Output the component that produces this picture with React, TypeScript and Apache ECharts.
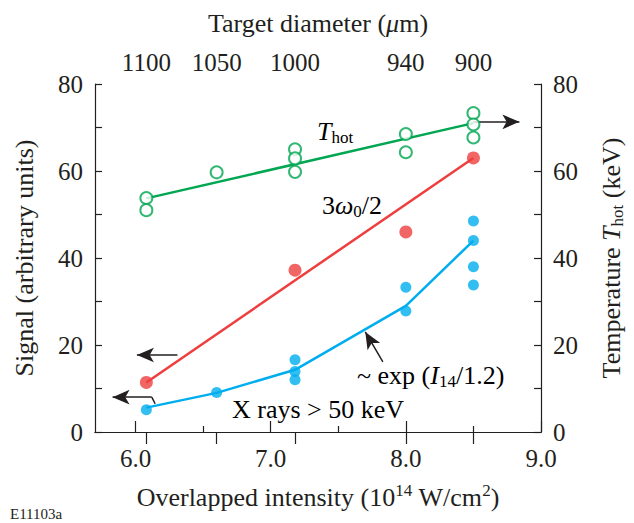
import React, { useEffect, useRef } from 'react';
import * as echarts from 'echarts';

// ---- data ----
const xTickValues = [6, 7, 8, 9];
const xMinorTickValues = [6.5, 7.5, 8.5];
const diameterPositions = [6.08, 6.6, 7.18, 8.0, 8.5];
const diameterLabels = ['1100', '1050', '1000', '940', '900'];
const yTickValues = [0, 10, 20, 30, 40, 50, 60, 70, 80];

const thotPoints = [
  [6.08, 53.8], [6.08, 51.0], [6.6, 59.7],
  [7.18, 65.0], [7.18, 62.9], [7.18, 59.8],
  [8.0, 68.5], [8.0, 64.3],
  [8.5, 73.3], [8.5, 70.7], [8.5, 67.7],
];
const thotFit = [[6.08, 53.7], [8.5, 71.0]];

const harmonicPoints = [[6.08, 11.4], [7.18, 37.2], [8.0, 46.0], [8.5, 63.0]];
const harmonicFit = [[6.08, 11.4], [8.5, 63.0]];

const xrayPoints = [
  [6.08, 5.1], [6.6, 9.1],
  [7.18, 16.6], [7.18, 13.9], [7.18, 12.0],
  [8.0, 33.3], [8.0, 27.8],
  [8.5, 48.5], [8.5, 44.0], [8.5, 38.0], [8.5, 33.8],
];
const xrayFit = [[6.08, 5.6], [6.6, 9.0], [7.18, 14.3], [8.0, 29.0], [8.5, 44.0]];

// annotation arrows (data coordinates)
const thotArrow = [[8.5, 71.3], [8.84, 71.3]];
const harmonicArrow = [[6.31, 17.7], [6.01, 17.7]];
const xrayArrow = [[6.12, 8.0], [5.83, 8.0]];
const xrayArrowKink = [[6.145, 6.5], [6.12, 8.0]];
const expArrow = [[7.83, 16.1], [7.70, 23.0]];

const FONT = 'Liberation Serif';
const INK = '#231f20';
const GREEN = '#00A651';
const RED = '#EE3E3E';
const BLUE = '#00AEEF';

const richBase = {
  a: { fontFamily: FONT, fontSize: 26, color: INK, lineHeight: 30 },
  i: { fontFamily: FONT, fontSize: 26, color: INK, fontStyle: 'italic', lineHeight: 30 },
  sup: { fontFamily: FONT, fontSize: 17, color: INK, verticalAlign: 'top', lineHeight: 16 },
  sub: { fontFamily: FONT, fontSize: 17, color: INK, verticalAlign: 'bottom', lineHeight: 14 },
};

function arrowLine(coords: number[][]) {
  return [{ coord: coords[0] }, { coord: coords[1] }];
}

export default function App() {
  const ref = useRef<HTMLDivElement>(null);
  useEffect(() => {
    if (!ref.current) return;
    const chart = echarts.init(ref.current, null, { renderer: 'svg' });
    const axisLineStyle = { color: INK, width: 1.2 };
    const tickLabelStyle = { fontFamily: FONT, fontSize: 25, color: INK };
    const baseX = { type: 'value', min: 5.7, max: 9.0, splitLine: { show: false } };
    const baseY = {
      type: 'value', min: 0, max: 80, interval: 10,
      splitLine: { show: false },
      axisLine: { show: true, lineStyle: axisLineStyle },
      axisTick: { show: true, inside: true, length: 7, lineStyle: axisLineStyle },
      nameLocation: 'middle',
    };
    const option: any = {
      animation: false,
      backgroundColor: '#ffffff',
      grid: { left: 95, right: 92, top: 84, bottom: 91 },
      xAxis: [
        {
          ...baseX,
          position: 'bottom',
          axisLine: { show: true, lineStyle: axisLineStyle },
          axisTick: { show: true, inside: true, length: 11, customValues: xTickValues, lineStyle: axisLineStyle },
          axisLabel: {
            ...tickLabelStyle, margin: 14, customValues: xTickValues,
            formatter: (v: number) => v.toFixed(1),
          },
          name: '{a|Overlapped intensity (10}{sup|14}{a| W/cm}{sup|2}{a|)}',
          nameLocation: 'middle',
          nameGap: 50,
          nameTextStyle: { rich: richBase },
        },
        {
          ...baseX,
          position: 'top',
          axisLine: { show: true, lineStyle: axisLineStyle },
          axisTick: { show: true, inside: true, length: 12, customValues: diameterPositions, lineStyle: axisLineStyle },
          axisLabel: {
            ...tickLabelStyle, margin: 9, customValues: diameterPositions,
            formatter: (v: number) => {
              const idx = diameterPositions.findIndex((p) => Math.abs(p - v) < 1e-6);
              return idx >= 0 ? diameterLabels[idx] : '';
            },
          },
          name: '{a|Target diameter (}{i|μ}{a|m)}',
          nameLocation: 'middle',
          nameGap: 46,
          nameTextStyle: { rich: richBase },
        },
        {
          ...baseX,
          position: 'bottom',
          axisLine: { show: false },
          axisTick: { show: true, inside: true, length: 6, customValues: xMinorTickValues, lineStyle: axisLineStyle },
          axisLabel: { show: false },
        },
      ],
      yAxis: [
        {
          ...baseY,
          position: 'left',
          axisLabel: {
            ...tickLabelStyle, margin: 12, customValues: yTickValues,
            formatter: (v: number) => (v % 20 === 0 ? String(v) : ''),
          },
          name: '{a|Signal (arbitrary units)}',
          nameGap: 56,
          nameTextStyle: { rich: richBase },
        },
        {
          ...baseY,
          position: 'right',
          axisLabel: {
            ...tickLabelStyle, margin: 12, customValues: yTickValues,
            formatter: (v: number) => (v % 20 === 0 ? String(v) : ''),
          },
          name: '{a|Temperature }{i|T}{sub|hot}{a| (keV)}',
          nameGap: 55,
          nameTextStyle: { rich: richBase },
        },
      ],
      series: [
        {
          type: 'line', data: thotFit, symbol: 'none',
          lineStyle: { color: GREEN, width: 2.5 }, z: 2,
        },
        {
          type: 'line', data: harmonicFit, symbol: 'none',
          lineStyle: { color: RED, width: 2.5 }, z: 2,
        },
        {
          type: 'line', data: xrayFit, symbol: 'none',
          lineStyle: { color: BLUE, width: 2.5 }, z: 2,
        },
        {
          type: 'line', data: xrayArrowKink, symbol: 'none',
          lineStyle: { color: INK, width: 1.5 }, z: 3,
        },
        {
          type: 'scatter', data: thotPoints, symbol: 'emptyCircle', symbolSize: 12,
          itemStyle: { color: GREEN, borderColor: GREEN, borderWidth: 1.5 }, z: 5,
          markLine: {
            silent: true, symbol: ['none', 'arrow'], symbolSize: [11, 17],
            label: { show: false },
            lineStyle: { color: INK, width: 1.5, type: 'solid' },
            data: [arrowLine(thotArrow), arrowLine(harmonicArrow), arrowLine(xrayArrow), arrowLine(expArrow)],
          },
        },
        {
          type: 'scatter', data: harmonicPoints, symbol: 'circle', symbolSize: 13,
          itemStyle: { color: RED }, z: 5,
        },
        {
          type: 'scatter', data: xrayPoints, symbol: 'circle', symbolSize: 11,
          itemStyle: { color: BLUE }, z: 5,
        },
      ],
      graphic: [
        {
          type: 'text', left: 317, top: 118,
          style: { text: '{i|T}{sub|hot}', rich: richBase },
        },
        {
          type: 'text', left: 322, top: 192,
          style: { text: '{a|3}{i|ω}{sub|0}{a|/2}', rich: richBase },
        },
        {
          type: 'text', left: 357, top: 362,
          style: { text: '{a|~ exp (}{i|I}{sub|14}{a|/1.2)}', rich: richBase },
        },
        {
          type: 'text', left: 232, top: 396,
          style: { text: '{a|X rays > 50 keV}', rich: richBase },
        },
        {
          type: 'text', left: 10, top: 506,
          style: { text: 'E11103a', font: `15px "${FONT}"`, fill: INK },
        },
      ],
    };
    chart.setOption(option);
    return () => chart.dispose();
  }, []);
  return <div ref={ref} style={{ width: 634, height: 523, position: 'absolute', left: 0, top: 0 }} />;
}
